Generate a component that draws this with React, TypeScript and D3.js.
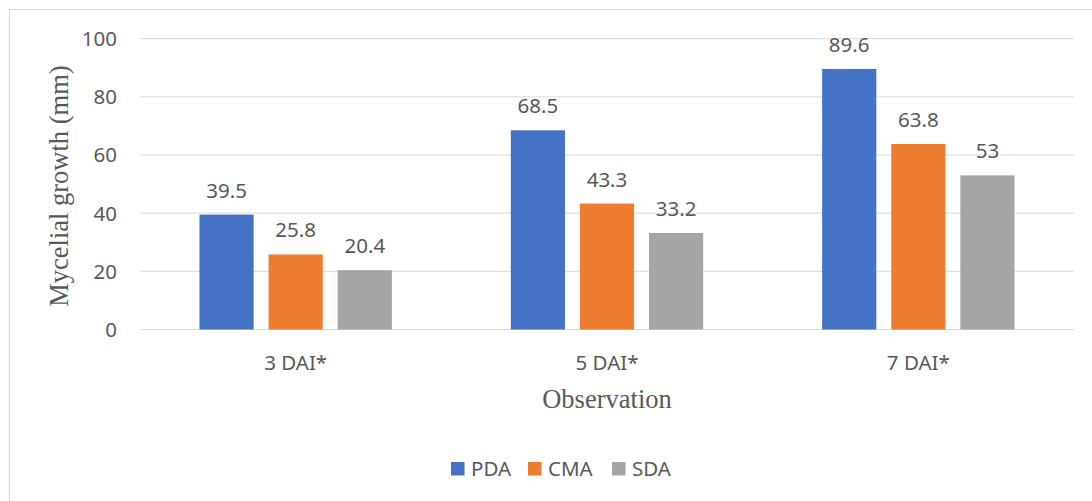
import React from "react";
import * as d3 from "d3";

const categories = ["3 DAI*", "5 DAI*", "7 DAI*"];
const seriesNames = ["PDA", "CMA", "SDA"];
const pda = [39.5, 68.5, 89.6];
const cma = [25.8, 43.3, 63.8];
const sda = [20.4, 33.2, 53];
const yTicks = [0, 20, 40, 60, 80, 100];
const colors = ["#4472C4", "#ED7D31", "#A5A5A5"];

const W = 1092;
const H = 501;
const plot = { left: 140, right: 1074, top: 38.7, bottom: 329.5 };
const sans = "'Noto Sans', 'Open Sans', sans-serif";
const serif = "'Liberation Serif', 'DejaVu Serif', serif";
const textColor = "#595959";
const fs = 20.5;

export default function App() {
  const values = [pda, cma, sda];
  const x0 = d3.scaleBand<string>().domain(categories).range([plot.left, plot.right]).padding(0);
  const y = d3.scaleLinear().domain([0, 100]).range([plot.bottom, plot.top]);
  const bw = x0.bandwidth();
  const barW = bw * 0.174;
  const gap = bw * 0.048;
  const groupW = barW * 3 + gap * 2;

  return (
    <svg width={W} height={H} style={{ position: "absolute", left: 0, top: 0 }}>
      <rect x={0} y={0} width={W} height={H} fill="#fff" />
      <rect x={9.5} y={9.5} width={W + 20} height={H + 20} fill="none" stroke="#d9d9d9" strokeWidth={1} />
      {yTicks.map((t) => (
        <g key={t}>
          <line x1={plot.left} x2={plot.right} y1={y(t)} y2={y(t)} stroke="#d9d9d9" strokeWidth={1} />
          <text x={117} y={y(t)} dy="0.36em" textAnchor="end" fontFamily={sans} fontSize={fs} fill={textColor}>
            {t}
          </text>
        </g>
      ))}
      {categories.map((c, i) => {
        const start = (x0(c) as number) + (bw - groupW) / 2;
        return (
          <g key={c}>
            {values.map((s, j) => {
              const bx = start + j * (barW + gap);
              const v = s[i];
              return (
                <g key={j}>
                  <rect x={bx} y={y(v)} width={barW} height={y(0) - y(v)} fill={colors[j]} />
                  <text x={bx + barW / 2} y={y(v) - 17} textAnchor="middle" fontFamily={sans} fontSize={fs} fill={textColor}>
                    {String(v)}
                  </text>
                </g>
              );
            })}
            <text x={(x0(c) as number) + bw / 2} y={370} textAnchor="middle" fontFamily={sans} fontSize={fs} fill={textColor}>
              {c}
            </text>
          </g>
        );
      })}
      <text
        transform={`translate(68, ${(plot.top + plot.bottom) / 2 + 2}) rotate(-90)`}
        textAnchor="middle"
        fontFamily={serif}
        fontSize={26.5}
        fill={textColor}
      >
        Mycelial growth (mm)
      </text>
      <text x={(plot.left + plot.right) / 2} y={408} textAnchor="middle" fontFamily={serif} fontSize={26.5} fill={textColor}>
        Observation
      </text>
      {seriesNames.map((n, j) => {
        const lx = [451, 528, 612][j];
        return (
          <g key={n}>
            <rect x={lx} y={462} width={13.5} height={13.5} fill={colors[j]} />
            <text x={lx + 20} y={469} dy="0.36em" fontFamily={sans} fontSize={fs} fill={textColor}>
              {n}
            </text>
          </g>
        );
      })}
    </svg>
  );
}
